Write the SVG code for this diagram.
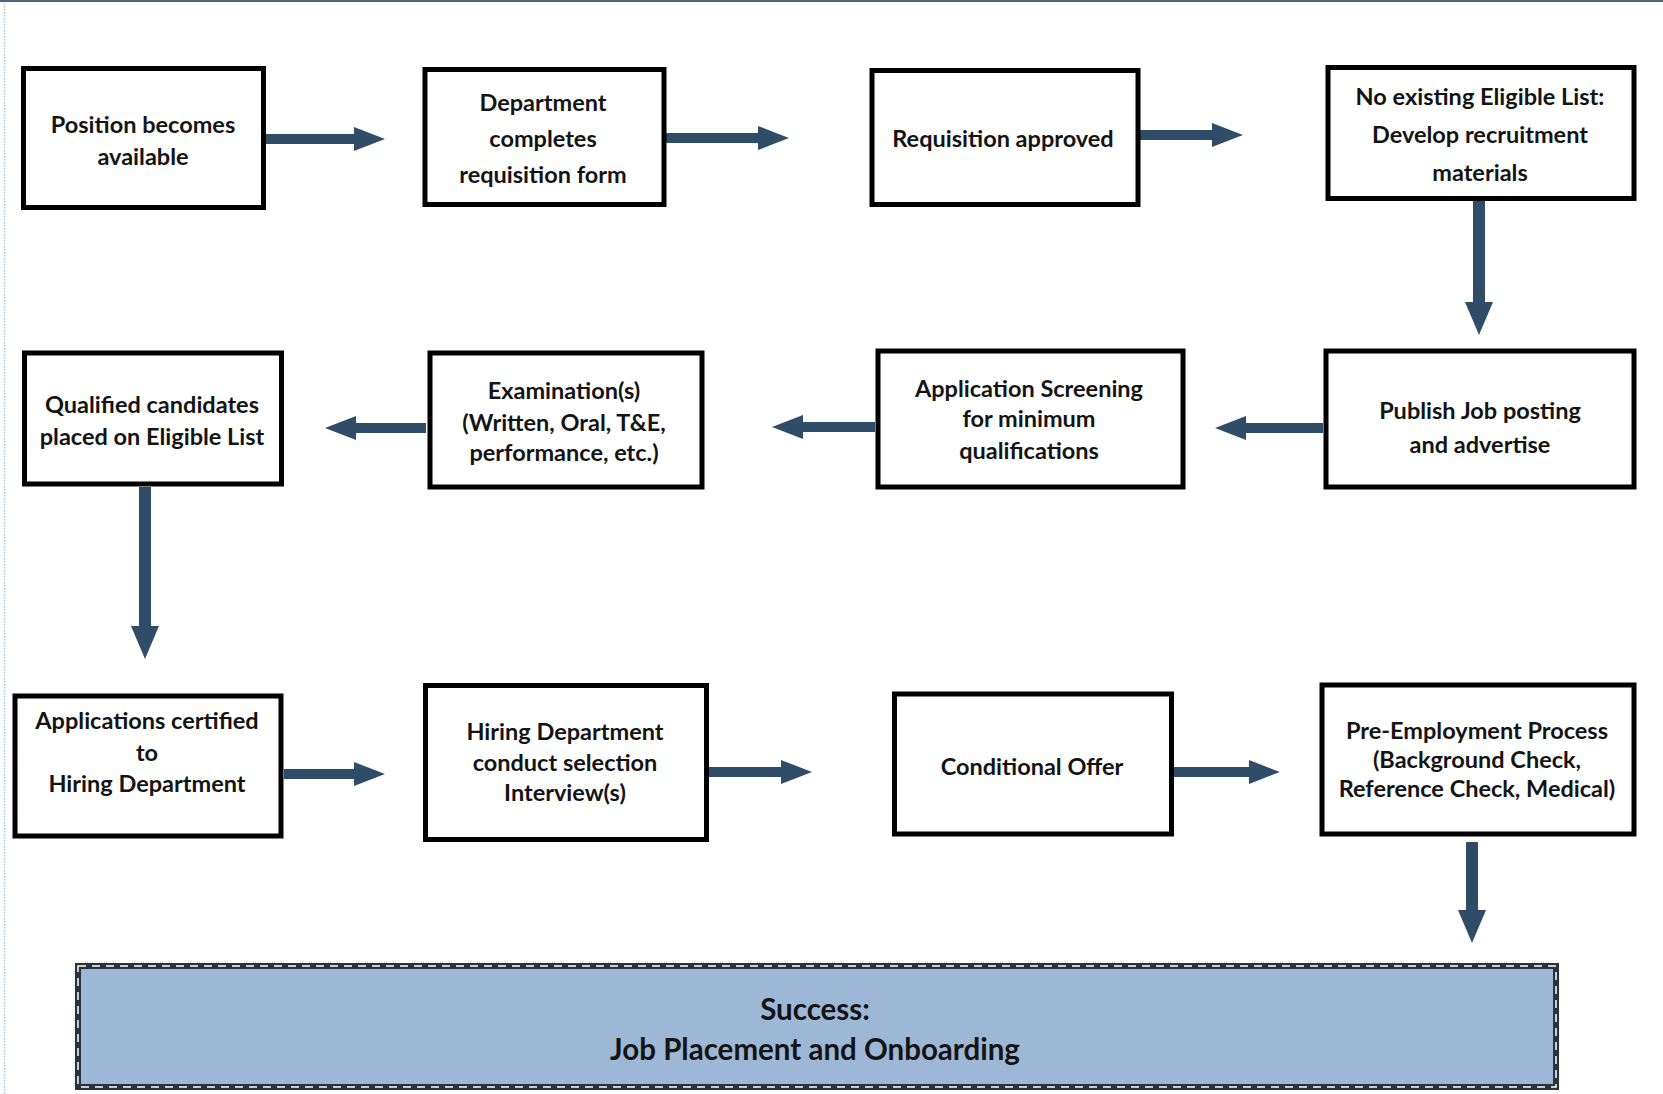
<svg xmlns="http://www.w3.org/2000/svg" width="1663" height="1094" viewBox="0 0 1663 1094">
<style>
.box{fill:#ffffff;stroke:#000000;stroke-width:5}
.t{font-family:Lato,"Liberation Sans",sans-serif;font-weight:700;font-size:23.5px;fill:#141414;text-anchor:middle;dominant-baseline:central}
.ts{font-family:Lato,"Liberation Sans",sans-serif;font-weight:700;font-size:29.5px;fill:#141414;text-anchor:middle;dominant-baseline:central}
.ah{fill:none;stroke:#2F4D69;stroke-width:10}
.av{fill:none;stroke:#2F4D69;stroke-width:12}
</style>
<defs>
<marker id="headH" markerUnits="userSpaceOnUse" markerWidth="32" markerHeight="26" viewBox="0 0 32 26" refX="1" refY="13" orient="auto">
<path d="M0,1 L31,13 L0,25 Z" fill="#2F4D69"/>
</marker>
<marker id="headV" markerUnits="userSpaceOnUse" markerWidth="34" markerHeight="30" viewBox="0 0 34 30" refX="1" refY="15" orient="auto">
<path d="M0,1 L33,15 L0,29 Z" fill="#2F4D69"/>
</marker>
</defs>
<rect x="0" y="0" width="1663" height="1094" fill="#ffffff"/>
<line x1="0" y1="1" x2="1663" y2="1" stroke="#4A6580" stroke-width="2"/>
<line x1="4.5" y1="3" x2="4.5" y2="1094" stroke="#A9C8F0" stroke-width="1.5" stroke-dasharray="1.5 1.5"/>

<g id="connectors">
<line class="ah" x1="265" y1="139" x2="355" y2="139" marker-end="url(#headH)"/>
<line class="ah" x1="666" y1="138" x2="759" y2="138" marker-end="url(#headH)"/>
<line class="ah" x1="1140" y1="135" x2="1213" y2="135" marker-end="url(#headH)"/>
<line class="av" x1="1479" y1="200" x2="1479" y2="303" marker-end="url(#headV)"/>
<line class="ah" x1="1323" y1="428" x2="1245" y2="428" marker-end="url(#headH)"/>
<line class="ah" x1="875" y1="427" x2="802" y2="427" marker-end="url(#headH)"/>
<line class="ah" x1="426" y1="428" x2="355" y2="428" marker-end="url(#headH)"/>
<line class="av" x1="145" y1="487" x2="145" y2="627" marker-end="url(#headV)"/>
<line class="ah" x1="284" y1="774" x2="355" y2="774" marker-end="url(#headH)"/>
<line class="ah" x1="709" y1="772" x2="782" y2="772" marker-end="url(#headH)"/>
<line class="ah" x1="1174" y1="772" x2="1250" y2="772" marker-end="url(#headH)"/>
<line class="av" x1="1472" y1="842" x2="1472" y2="911" marker-end="url(#headV)"/>
</g>

<g id="n1">
<rect class="box" x="23.5" y="68.5" width="240" height="139"/>
<text class="t" x="143" y="124">Position becomes</text>
<text class="t" x="143" y="156">available</text>
</g>
<g id="n2">
<rect class="box" x="425" y="69.5" width="239" height="135"/>
<text class="t" x="543" y="102">Department</text>
<text class="t" x="543" y="138">completes</text>
<text class="t" x="543" y="174">requisition form</text>
</g>
<g id="n3">
<rect class="box" x="872" y="70.5" width="266" height="134"/>
<text class="t" x="1003" y="138">Requisition approved</text>
</g>
<g id="n4">
<rect class="box" x="1328" y="67.5" width="306" height="131"/>
<text class="t" x="1480" y="96">No existing Eligible List:</text>
<text class="t" x="1480" y="134">Develop recruitment</text>
<text class="t" x="1480" y="172">materials</text>
</g>
<g id="n5">
<rect class="box" x="1326" y="351" width="308" height="136"/>
<text class="t" x="1480" y="410">Publish Job posting</text>
<text class="t" x="1480" y="444">and advertise</text>
</g>
<g id="n6">
<rect class="box" x="878" y="351" width="305" height="136"/>
<text class="t" x="1029" y="388">Application Screening</text>
<text class="t" x="1029" y="418">for minimum</text>
<text class="t" x="1029" y="450">qualifications</text>
</g>
<g id="n7">
<rect class="box" x="430" y="353" width="272" height="134"/>
<text class="t" x="564" y="390">Examination(s)</text>
<text class="t" x="564" y="422">(Written, Oral, T&amp;E,</text>
<text class="t" x="564" y="452">performance, etc.)</text>
</g>
<g id="n8">
<rect class="box" x="24.5" y="353" width="257" height="131"/>
<text class="t" x="152" y="404">Qualified candidates</text>
<text class="t" x="152" y="436">placed on Eligible List</text>
</g>
<g id="n9">
<rect class="box" x="15" y="696" width="266" height="140"/>
<text class="t" x="147" y="720">Applications certified</text>
<text class="t" x="147" y="752">to</text>
<text class="t" x="147" y="783">Hiring Department</text>
</g>
<g id="n10">
<rect class="box" x="425.5" y="685.5" width="281" height="154"/>
<text class="t" x="565" y="731">Hiring Department</text>
<text class="t" x="565" y="762">conduct selection</text>
<text class="t" x="565" y="792">Interview(s)</text>
</g>
<g id="n11">
<rect class="box" x="894.5" y="694" width="277" height="140"/>
<text class="t" x="1032" y="766">Conditional Offer</text>
</g>
<g id="n12">
<rect class="box" x="1322" y="685" width="312" height="149"/>
<text class="t" x="1477" y="730">Pre-Employment Process</text>
<text class="t" x="1477" y="759">(Background Check,</text>
<text class="t" x="1477" y="788">Reference Check, Medical)</text>
</g>
<g id="n13">
<rect x="78" y="966" width="1478" height="121" fill="#9DB8D6" stroke="#2A333D" stroke-width="6"/>
<rect x="78" y="966" width="1478" height="121" fill="none" stroke="#ffffff" stroke-width="1.5" stroke-dasharray="8 6"/>
<text class="ts" x="815" y="1008">Success:</text>
<text class="ts" x="815" y="1048">Job Placement and Onboarding</text>
</g>
</svg>
